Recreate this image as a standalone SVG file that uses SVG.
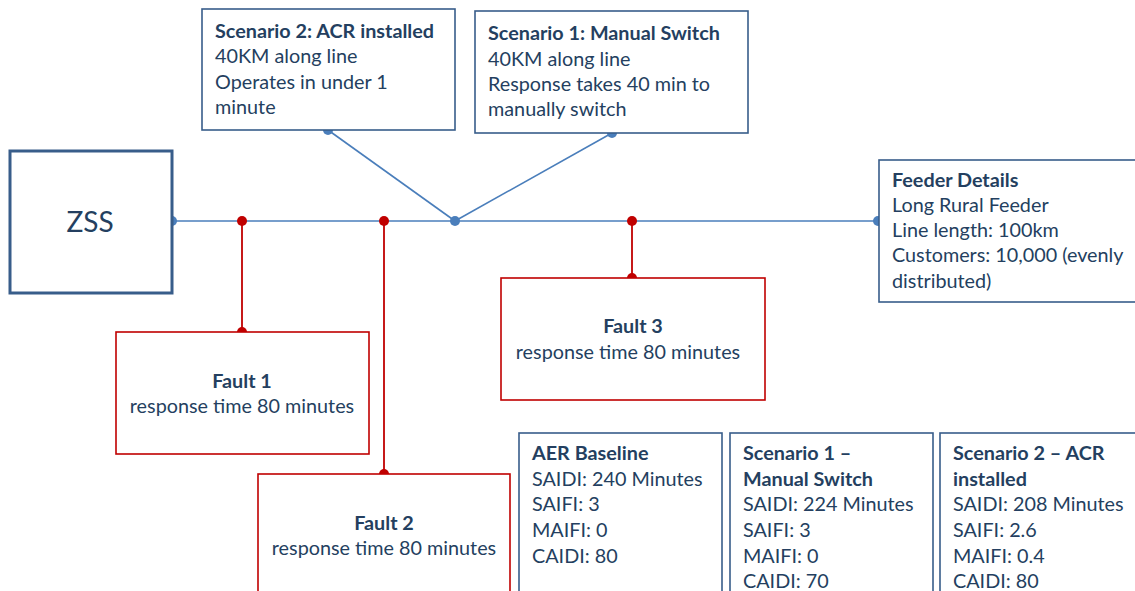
<svg xmlns="http://www.w3.org/2000/svg" width="1135" height="591" viewBox="0 0 1135 591">
<style>
.t{font-family:Lato,"Liberation Sans",sans-serif;font-size:19.8px;fill:#243F60}
.b{font-weight:bold}
.c{text-anchor:middle}
.bx{fill:#fff;stroke:#385D8A;stroke-width:1.6}
.rx{fill:#fff;stroke:#C00000;stroke-width:1.6}
.bl{stroke:#4A7EBB;stroke-width:1.6;fill:none}
.rl{stroke:#C00000;stroke-width:1.8;fill:none}
.bd{fill:#4A7EBB}
.rd{fill:#C00000}
</style>
<rect width="1135" height="591" fill="#fff"/>
<g id="connectors">
<line class="bl" x1="172" y1="221" x2="878" y2="221"/>
<line class="bl" x1="328" y1="130" x2="455" y2="221"/>
<line class="bl" x1="612" y1="133" x2="455" y2="221"/>
<line class="rl" x1="242" y1="221" x2="242" y2="332"/>
<line class="rl" x1="384" y1="221" x2="384" y2="474"/>
<line class="rl" x1="632" y1="221" x2="632" y2="278"/>
<circle class="bd" cx="172" cy="221" r="5"/>
<circle class="bd" cx="455" cy="221" r="5"/>
<circle class="bd" cx="878" cy="221" r="5"/>
<circle class="bd" cx="328" cy="130" r="5"/>
<circle class="bd" cx="612" cy="133" r="5"/>
<circle class="rd" cx="242" cy="221" r="5"/>
<circle class="rd" cx="384" cy="221" r="5"/>
<circle class="rd" cx="632" cy="221" r="5"/>
<circle class="rd" cx="242" cy="332" r="5"/>
<circle class="rd" cx="384" cy="474" r="5"/>
<circle class="rd" cx="632" cy="278" r="5"/>
</g>
<g id="zss">
<rect x="10" y="151" width="162" height="142" fill="#fff" stroke="#385D8A" stroke-width="3"/>
<text class="t c" x="90" y="232" style="font-size:28px">ZSS</text>
</g>
<g id="scenario2">
<rect class="bx" x="202" y="9" width="253" height="121"/>
<text class="t b" x="215" y="38">Scenario 2: ACR installed</text>
<text class="t" x="215" y="63">40KM along line</text>
<text class="t" x="215" y="89">Operates in under 1</text>
<text class="t" x="215" y="114">minute</text>
</g>
<g id="scenario1">
<rect class="bx" x="475" y="11" width="273" height="122"/>
<text class="t b" x="488" y="40">Scenario 1: Manual Switch</text>
<text class="t" x="488" y="66">40KM along line</text>
<text class="t" x="488" y="91">Response takes 40 min to</text>
<text class="t" x="488" y="116">manually switch</text>
</g>
<g id="feeder">
<rect class="bx" x="879" y="160" width="270" height="142"/>
<text class="t b" x="892" y="187">Feeder Details</text>
<text class="t" x="892" y="212">Long Rural Feeder</text>
<text class="t" x="892" y="237">Line length: 100km</text>
<text class="t" x="892" y="262">Customers: 10,000 (evenly</text>
<text class="t" x="892" y="288">distributed)</text>
</g>
<g id="fault1">
<rect class="rx" x="116" y="332" width="253" height="122"/>
<text class="t b c" x="242" y="388">Fault 1</text>
<text class="t c" x="242" y="413">response time 80 minutes</text>
</g>
<g id="fault2">
<rect class="rx" x="258" y="474" width="252" height="130"/>
<text class="t b c" x="384" y="530">Fault 2</text>
<text class="t c" x="384" y="555">response time 80 minutes</text>
</g>
<g id="fault3">
<rect class="rx" x="501" y="278" width="264" height="122"/>
<text class="t b c" x="633" y="333">Fault 3</text>
<text class="t c" x="628" y="359">response time 80 minutes</text>
</g>
<g id="aer">
<rect class="bx" x="519" y="433" width="203" height="170"/>
<text class="t b" x="532" y="460">AER Baseline</text>
<text class="t" x="532" y="486">SAIDI: 240 Minutes</text>
<text class="t" x="532" y="511">SAIFI: 3</text>
<text class="t" x="532" y="537">MAIFI: 0</text>
<text class="t" x="532" y="563">CAIDI: 80</text>
</g>
<g id="s1result">
<rect class="bx" x="730" y="433" width="203" height="170"/>
<text class="t b" x="743" y="460">Scenario 1 –</text>
<text class="t b" x="743" y="486">Manual Switch</text>
<text class="t" x="743" y="511">SAIDI: 224 Minutes</text>
<text class="t" x="743" y="537">SAIFI: 3</text>
<text class="t" x="743" y="563">MAIFI: 0</text>
<text class="t" x="743" y="588">CAIDI: 70</text>
</g>
<g id="s2result">
<rect class="bx" x="940" y="433" width="210" height="170"/>
<text class="t b" x="953" y="460">Scenario 2 – ACR</text>
<text class="t b" x="953" y="486">installed</text>
<text class="t" x="953" y="511">SAIDI: 208 Minutes</text>
<text class="t" x="953" y="537">SAIFI: 2.6</text>
<text class="t" x="953" y="563">MAIFI: 0.4</text>
<text class="t" x="953" y="588">CAIDI: 80</text>
</g>
</svg>
